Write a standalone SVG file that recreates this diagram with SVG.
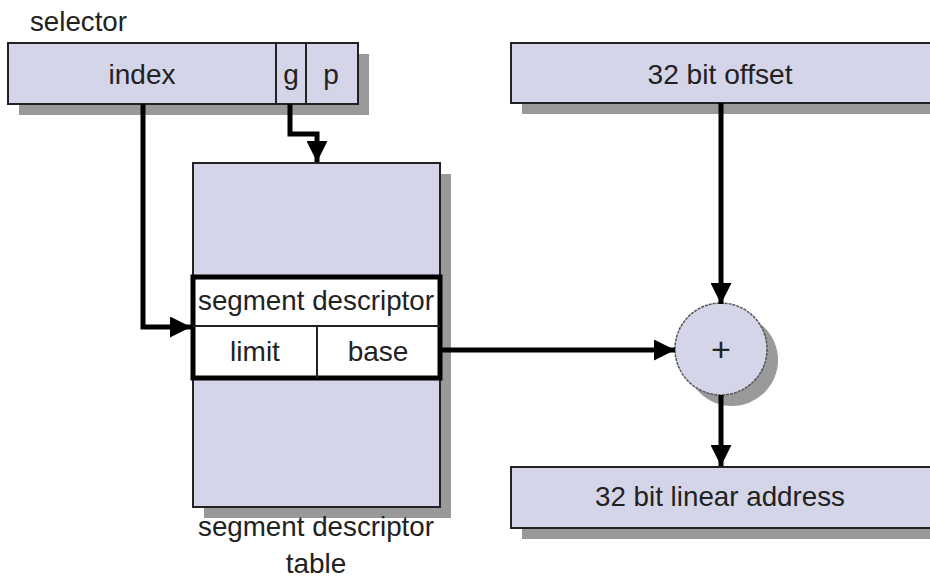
<svg xmlns="http://www.w3.org/2000/svg" width="930" height="579" viewBox="0 0 930 579">
<style>
.box{fill:#d5d5ea;stroke:#222;stroke-width:2}
.sh{fill:#999}
.t{font-family:"Liberation Sans",Arial,sans-serif;font-size:28px;fill:#222}
.c{text-anchor:middle}
.w{fill:none;stroke:#000;stroke-width:5}
.thin{fill:none;stroke:#222;stroke-width:2}
</style>
<defs>
<marker id="ah" viewBox="0 0 10 10" refX="10" refY="5" markerWidth="4.2" markerHeight="4.2" orient="auto" markerUnits="strokeWidth">
<path d="M0,0 L10,5 L0,10 z" fill="#000"/>
</marker>
</defs>
<rect width="930" height="579" fill="#fff"/>
<text class="t" x="30" y="31" textLength="97" lengthAdjust="spacingAndGlyphs">selector</text>
<g id="selector">
<rect class="sh" x="19" y="54" width="350" height="61"/>
<rect class="box" x="8" y="43" width="350" height="61"/>
<line class="thin" x1="276" y1="43" x2="276" y2="104"/>
<line class="thin" x1="306" y1="43" x2="306" y2="104"/>
<text class="t c" x="142" y="84">index</text>
<text class="t c" x="291" y="84">g</text>
<text class="t c" x="331" y="84">p</text>
</g>
<g id="offset">
<rect class="sh" x="522" y="54" width="420" height="60"/>
<rect class="box" x="511" y="43" width="430" height="60"/>
<text class="t c" x="720" y="84" textLength="145" lengthAdjust="spacingAndGlyphs">32 bit offset</text>
</g>
<g id="table">
<rect class="sh" x="204" y="174" width="247" height="344"/>
<rect class="box" x="193" y="163" width="247" height="344"/>
<text class="t c" x="316" y="536" textLength="236" lengthAdjust="spacingAndGlyphs">segment descriptor</text>
<text class="t c" x="316" y="573">table</text>
</g>
<g id="descriptor">
<rect x="193" y="277" width="247" height="101" fill="#fff" stroke="#000" stroke-width="5"/>
<line class="thin" x1="193" y1="326" x2="440" y2="326"/>
<line class="thin" x1="317" y1="326" x2="317" y2="378"/>
<text class="t c" x="316" y="310" textLength="236" lengthAdjust="spacingAndGlyphs">segment descriptor</text>
<text class="t c" x="255" y="361">limit</text>
<text class="t c" x="378" y="361">base</text>
</g>
<g id="adder">
<circle cx="732" cy="360" r="46" fill="#999"/>
<circle cx="721" cy="349" r="46" fill="#d5d5ea" stroke="#555" stroke-width="1.5" stroke-dasharray="3 1"/>
<text class="t c" x="721" y="361" style="font-size:34px">+</text>
</g>
<g id="linear">
<rect class="sh" x="522" y="478" width="420" height="61"/>
<rect class="box" x="511" y="467" width="430" height="61"/>
<text class="t c" x="720" y="506" textLength="250" lengthAdjust="spacingAndGlyphs">32 bit linear address</text>
</g>
<g id="connectors">
<polyline class="w" points="143,104 143,327 191,327" marker-end="url(#ah)"/>
<polyline class="w" points="290,104 290,134 317,134 317,162" marker-end="url(#ah)"/>
<polyline class="w" points="721,103 721,304" marker-end="url(#ah)"/>
<polyline class="w" points="442,350 675,350" marker-end="url(#ah)"/>
<polyline class="w" points="721,395 721,466" marker-end="url(#ah)"/>
</g>
</svg>
